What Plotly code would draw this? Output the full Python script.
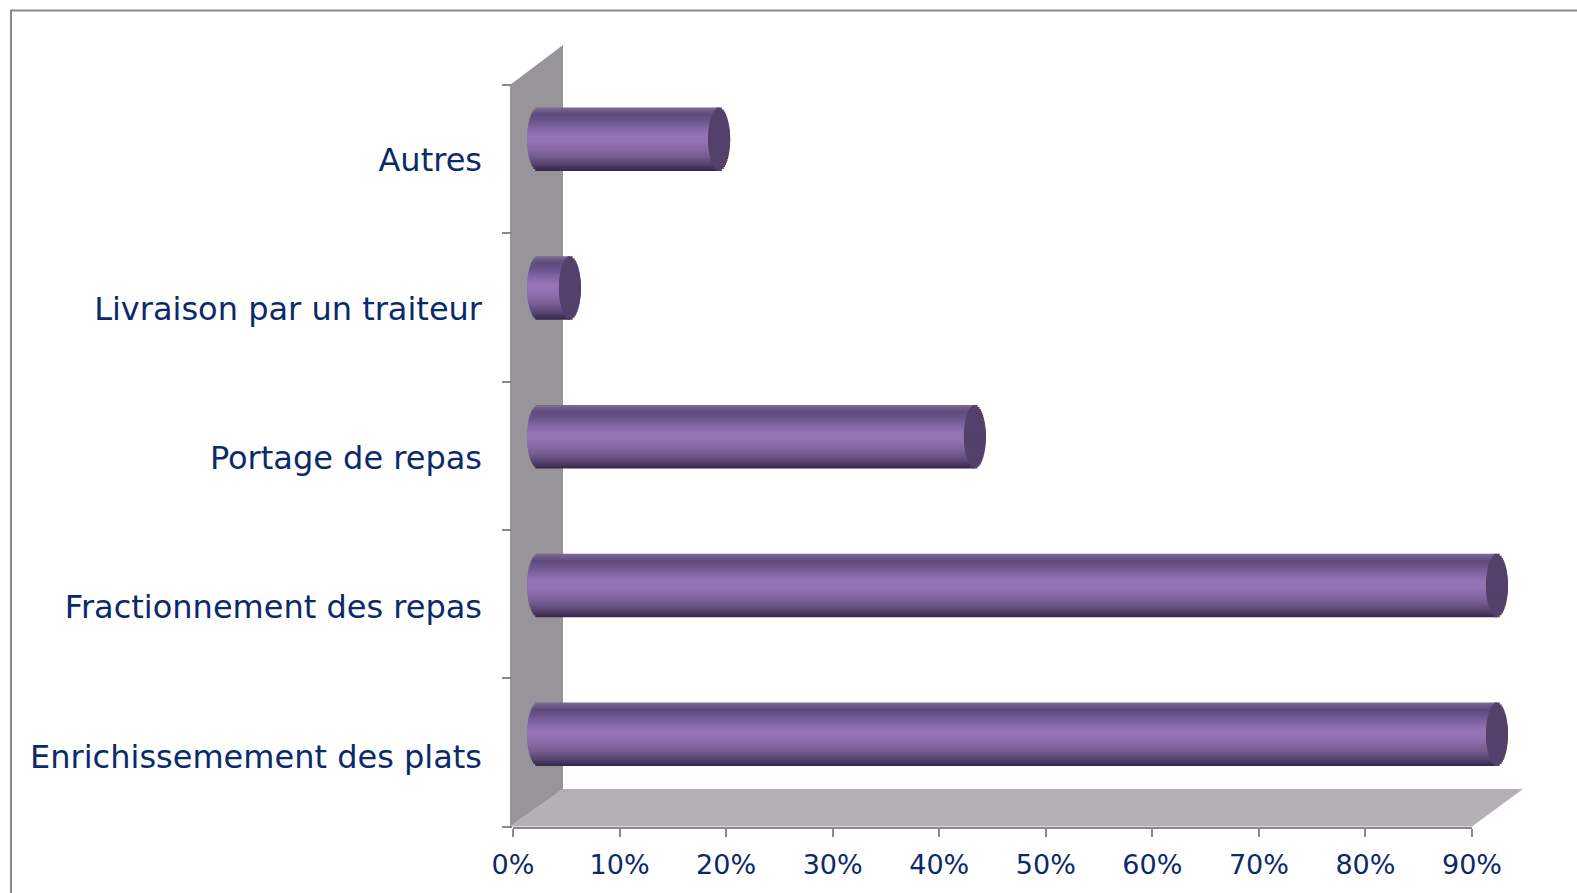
"""
Barres horizontales "cylindres 3D" façon Excel, refaites avec des barres Plotly.
"""

import math

import plotly.graph_objects as go

categories = [
    "Enrichissemement des plats",
    "Fractionnement des repas",
    "Portage de repas",
    "Livraison par un traiteur",
    "Autres",
]
valeurs = [90, 90, 41, 3, 17]
ticks_x = [0, 10, 20, 30, 40, 50, 60, 70, 80, 90]
labels_x = ["0%", "10%", "20%", "30%", "40%", "50%", "60%", "70%", "80%", "90%"]

# degrade du cylindre, du haut vers le bas
DEGRADE = ["#7d6a94", "#5f4a7c", "#6d5690", "#8468a6", "#9474b6", "#9172b2",
           "#8468a4", "#735a90", "#594470", "#33264a"]
COULEUR_CAP = "#54416b"
COULEUR_TEXTE = "#0b2a6b"
GRIS_AXE = "#8a8a8a"

W, H = 1577, 893
X0, X90 = 513, 1472   # pixels de 0% et 90%
Y_BAS, Y_HAUT = 826.5, 85
Y2_BAS, Y2_HAUT = 808.6, 64.9   # les barres ont un pas un peu plus grand que les ticks
Y3_BAS, Y3_HAUT = 830.9, 85.4   # idem pour les libelles
DX = 25               # decalage de profondeur des barres
PX_PAR_UNITE = (X90 - X0) / 90
N_BANDES = 32
HAUTEUR_BARRE = 63.5 / ((Y2_BAS - Y2_HAUT) / 5)
DEMI_ELLIPSE = 11 / PX_PAR_UNITE


def px(x):
    return x / W


def py(y):
    return 1 - y / H


def couleur_bande(t):
    pos = t * (len(DEGRADE) - 1)
    i = min(int(pos), len(DEGRADE) - 2)
    f = pos - i
    a = [int(DEGRADE[i][k:k + 2], 16) for k in (1, 3, 5)]
    b = [int(DEGRADE[i + 1][k:k + 2], 16) for k in (1, 3, 5)]
    return "rgb({},{},{})".format(*[round(u + (v - u) * f) for u, v in zip(a, b)])


def polygone(points, couleur):
    chemin = "M " + " L ".join(f"{px(x)},{py(y)}" for x, y in points) + " Z"
    return dict(type="path", path=chemin, xref="paper", yref="paper",
                fillcolor=couleur, line=dict(width=0), layer="below")


def bandes():
    # du bord vers le centre : chaque bande va jusqu'a l'axe du cylindre et la
    # suivante la recouvre, comme ca pas de jours entre les bandes
    pas = HAUTEUR_BARRE / N_BANDES
    moitie = N_BANDES // 2
    for k in range(moitie):
        epaisseur = HAUTEUR_BARRE / 2 - k * pas
        yield (k + 0.5) / N_BANDES, 0, epaisseur
        yield 1 - (k + 0.5) / N_BANDES, -epaisseur, epaisseur


fig = go.Figure()

# traces invisibles pour porter les axes visibles (ticks, puis libelles)
fig.add_trace(go.Bar(y=categories, x=valeurs, orientation="h", opacity=0,
                     hoverinfo="skip", showlegend=False))
fig.add_trace(go.Bar(y=categories, x=valeurs, orientation="h", opacity=0,
                     yaxis="y3", hoverinfo="skip", showlegend=False))

for t, offset, epaisseur in bandes():
    s = math.sqrt(max(0, 1 - (2 * t - 1) ** 2)) * DEMI_ELLIPSE
    # corps du cylindre
    fig.add_trace(go.Bar(
        y=categories, x=[v + s for v in valeurs], base=[-s] * len(valeurs),
        orientation="h", width=epaisseur, offset=offset,
        marker=dict(color=couleur_bande(t), line=dict(width=0)),
        xaxis="x2", yaxis="y2", hoverinfo="skip", showlegend=False,
    ))
for t, offset, epaisseur in bandes():
    s = math.sqrt(max(0, 1 - (2 * t - 1) ** 2)) * DEMI_ELLIPSE
    # face du bout
    fig.add_trace(go.Bar(
        y=categories, x=[2 * s] * len(valeurs), base=[v - s for v in valeurs],
        orientation="h", width=epaisseur, offset=offset,
        marker=dict(color=COULEUR_CAP, line=dict(width=0)),
        xaxis="x2", yaxis="y2", hoverinfo="skip", showlegend=False,
    ))

formes = [
    # cadre
    dict(type="rect", xref="paper", yref="paper", x0=px(11), x1=px(W + 20),
         y0=py(H + 20), y1=py(10.5), line=dict(color=GRIS_AXE, width=2),
         fillcolor="white", layer="below"),
    polygone([(510, 826.5), (563, 789), (1523, 789), (1472, 826.5)], "#b4b0b5"),
    polygone([(510, 85), (563, 45), (563, 789), (510, 826.5)], "#979599"),
]

fig.update_layout(
    width=W,
    height=H,
    margin=dict(l=0, r=0, t=0, b=0),
    autosize=False,
    paper_bgcolor="white",
    plot_bgcolor="rgba(0,0,0,0)",
    barmode="overlay",
    showlegend=False,
    shapes=formes,
    font=dict(family="DejaVu Sans", color=COULEUR_TEXTE),
    xaxis=dict(
        domain=[px(X0), px(X90)], range=[0, 90], tickvals=ticks_x, ticktext=labels_x,
        showgrid=False, zeroline=False, showline=True, linecolor=GRIS_AXE, linewidth=2,
        ticks="outside", ticklen=8, tickwidth=2, tickcolor=GRIS_AXE, automargin=False,
        ticklabelstandoff=5,
        tickfont=dict(size=27, color=COULEUR_TEXTE), anchor="y",
    ),
    yaxis=dict(
        domain=[py(Y_BAS), py(Y_HAUT)], range=[-0.5, 4.5], type="category",
        categoryorder="array", categoryarray=categories,
        showgrid=False, zeroline=False, showline=False, automargin=False,
        ticks="outside", ticklen=10, tickwidth=2, tickcolor=GRIS_AXE,
        tickson="boundaries", showticklabels=False, anchor="x",
    ),
    xaxis2=dict(
        domain=[0, 1],
        range=[(0 - X0 - DX) / PX_PAR_UNITE, (W - X0 - DX) / PX_PAR_UNITE],
        visible=False, anchor="y2", automargin=False,
    ),
    yaxis2=dict(
        domain=[py(Y2_BAS), py(Y2_HAUT)], range=[-0.5, 4.5], type="category",
        categoryorder="array", categoryarray=categories,
        visible=False, anchor="x2", automargin=False,
    ),
    yaxis3=dict(
        domain=[py(Y3_BAS), py(Y3_HAUT)], range=[-0.5, 4.5], type="category",
        categoryorder="array", categoryarray=categories,
        showgrid=False, zeroline=False, showline=False, automargin=False,
        ticks="", anchor="free", position=px(X0), side="left", ticklabelstandoff=31,
        tickfont=dict(size=32, color=COULEUR_TEXTE),
    ),
)

fig.write_html(
    "out.html",
    config=dict(displayModeBar=False),
    post_script="document.body.style.margin='0';document.body.style.overflow='hidden';",
)
